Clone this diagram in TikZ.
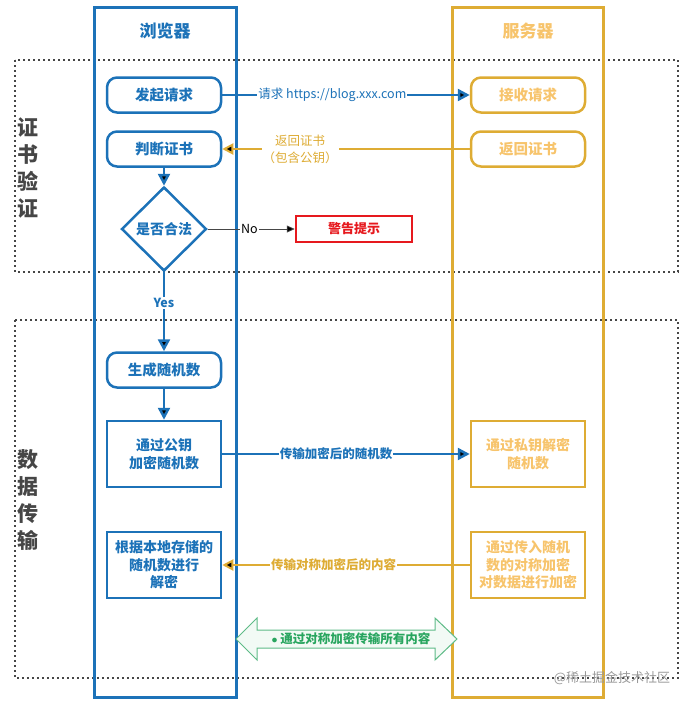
\documentclass[tikz,border=0pt]{standalone}
\usepackage{fontspec}
\setmainfont{Noto Sans CJK SC}
\usetikzlibrary{arrows.meta,shapes.geometric}
\definecolor{browserblue}{RGB}{28,114,184}
\definecolor{servergold}{RGB}{222,172,52}
\definecolor{serverpale}{RGB}{247,196,108}
\definecolor{alertred}{RGB}{230,25,30}
\definecolor{safegreen}{RGB}{40,165,95}
\definecolor{framegrey}{RGB}{70,70,70}
\newcommand{\sz}[2]{\fontsize{#1}{#2}\selectfont}

\begin{document}
\begin{tikzpicture}[x=1pt, y=-1pt,
		lane/.style={line width=3pt},
		bstep/.style={draw=browserblue, line width=2.5pt, rounded corners=10pt, minimum width=114pt, minimum height=35pt, text=browserblue, font=\bfseries\sz{14.5}{18}, align=center},
		bbox/.style={draw=browserblue, line width=2.5pt, minimum width=114pt, minimum height=66pt, text=browserblue, font=\bfseries\sz{14}{17.5}, align=center},
		sstep/.style={bstep, draw=servergold, text=serverpale},
		sbox/.style={bbox, draw=servergold, text=serverpale},
		tag/.style={fill=white, inner sep=1pt, font=\sz{12.5}{17}},
		phase/.style={draw=framegrey, line width=1.6pt, dash pattern=on 1.6pt off 3.4pt},
		phasetitle/.style={text=framegrey, font=\bfseries\sz{21}{27}, align=center}]
	\useasboundingbox (0,0) rectangle (694,705);
	% phases
	\draw[phase] (15,60) rectangle (678,272);
	\draw[phase] (15,320) rectangle (678,678);
	\node[phasetitle] (cert) at (28,168) {证\\书\\验\\证};
	\node[phasetitle] (data) at (28,500) {数\\据\\传\\输};
	% lanes
	\draw[lane, draw=browserblue] (94,7) rectangle (236,697);
	\draw[lane, draw=servergold] (452,7) rectangle (603,697);
	\node[text=browserblue, font=\bfseries\sz{17}{20}] (browser) at (165,31) {浏览器};
	\node[text=serverpale, font=\bfseries\sz{17}{20}] (server) at (528,31) {服务器};
	% browser
	\node[bstep] (send) at (164,95) {发起请求};
	\node[bstep] (check) at (164,149) {判断证书};
	\node[diamond, draw=browserblue, line width=2.5pt, aspect=1, inner sep=0pt, minimum width=85pt, minimum height=84pt, text=browserblue, font=\bfseries\sz{14}{18}] (valid) at (164,229) {是否合法};
	\node[draw=alertred, line width=2.5pt, minimum width=116pt, minimum height=26pt, text=alertred, font=\bfseries\sz{13}{16}] (warn) at (354,229) {警告提示};
	\node[bstep] (rand) at (164,370) {生成随机数};
	\node[bbox] (enc) at (164,454) {通过公钥\\加密随机数};
	\node[bbox] (dec) at (164,565) {根据本地存储的\\随机数进行\\解密};
	% server
	\node[sstep] (recv) at (528,95) {接收请求};
	\node[sstep] (reply) at (528,149) {返回证书};
	\node[sbox] (sdec) at (528,454) {通过私钥解密\\随机数};
	\node[sbox] (senc) at (528,565) {通过传入随机\\数的对称加密\\对数据进行加密};
	% flows
	\path[-{Triangle[length=12pt,width=12pt]}, line width=2.5pt, draw=browserblue]
	(send) edge node[tag, text=browserblue, pos=0.445]{请求 https://blog.xxx.com} (recv)
	(check) edge (valid)
	(valid) edge node[tag, text=browserblue, font=\bfseries\sz{12.5}{17}, pos=0.39]{Yes} (rand)
	(rand) edge (enc)
	(enc) edge node[tag, text=browserblue, font=\bfseries\sz{12.5}{17}, pos=0.46]{传输加密后的随机数} (sdec);
	\path[-{Triangle[length=11pt,width=11pt]}, line width=2pt, draw=servergold]
	(reply) edge node[tag, text=servergold, align=center, pos=0.685]{返回证书\\（包含公钥）} (check)
	(senc) edge node[tag, text=servergold, font=\bfseries\sz{12.5}{17}, pos=0.55]{传输对称加密后的内容} (dec);
	\path[-{Triangle[length=8pt,width=7pt]}, line width=0.8pt, draw=framegrey]
	(valid) edge node[tag, text=black, pos=0.48]{No} (warn);
	% symmetric channel
	\draw[draw=safegreen!75, fill=safegreen!6, line width=1pt] (236,639) -- (257,618) -- (257,630) -- (435,630) -- (435,618) -- (457,639) -- (435,660) -- (435,648) -- (257,648) -- (257,660) -- cycle;
	\node[text=safegreen, font=\bfseries\sz{12.5}{16}] (channel) at (351,639) {$\bullet$ 通过对称加密传输所有内容};
	\node[text=black!40, font=\sz{13}{16}] (mark) at (612,678) {@稀土掘金技术社区};
\end{tikzpicture}
\end{document}
